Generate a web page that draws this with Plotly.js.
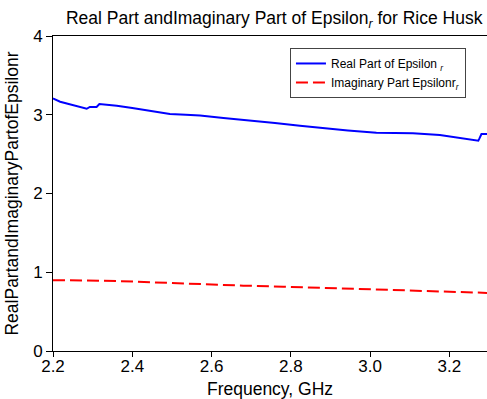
<!DOCTYPE html>
<html>
<head>
<meta charset="utf-8">
<script src="https://cdn.plot.ly/plotly-3.0.1.min.js"></script>
<style>html,body{margin:0;padding:0;background:#fff;}#chart{width:487px;height:399px;}</style>
</head>
<body>
<div id="chart"></div>
<script>
const realFreq = [2.2, 2.2025, 2.218, 2.24, 2.26, 2.276, 2.285, 2.293, 2.31, 2.317, 2.335, 2.361, 2.40, 2.445, 2.495, 2.535, 2.571, 2.63, 2.697, 2.76, 2.823, 2.88, 2.944, 3.016, 3.06, 3.108, 3.176, 3.234, 3.273, 3.276, 3.281, 3.295];
const realVals = [3.21, 3.20, 3.166, 3.135, 3.11, 3.09, 3.076, 3.10, 3.10, 3.136, 3.13, 3.115, 3.085, 3.05, 3.01, 3.00, 2.99, 2.96, 2.93, 2.895, 2.86, 2.83, 2.80, 2.77, 2.768, 2.765, 2.743, 2.70, 2.67, 2.70, 2.755, 2.755];
const imagFreq = [2.2, 2.23, 2.361, 2.45, 2.571, 2.68, 2.781, 2.89, 2.991, 3.08, 3.159, 3.23, 3.295];
const imagVals = [0.90, 0.90, 0.889, 0.87, 0.847, 0.83, 0.817, 0.80, 0.787, 0.775, 0.76, 0.75, 0.738];
const xTicks = [2.2, 2.4, 2.6, 2.8, 3.0, 3.2];
const yTicks = [0, 1, 2, 3, 4];

const fam = 'Liberation Sans, Arial, sans-serif';
const tickFont = {family: fam, size: 17, color: '#000'};
const titleFont = {family: fam, size: 17.5, color: '#000'};
const data = [
  {x: realFreq, y: realVals, type: 'scatter', mode: 'lines', name: 'Real Part of Epsilon <i><sub>r</sub></i>',
   line: {color: '#0000ff', width: 2}},
  {x: imagFreq, y: imagVals, type: 'scatter', mode: 'lines', name: 'Imaginary Part Epsilonr<i><sub>r</sub></i>',
   line: {color: '#ff0000', width: 2, dash: '12px,5px'}}
];
const layout = {
  width: 487, height: 399,
  margin: {l: 53, r: 0, t: 36, b: 48},
  paper_bgcolor: '#fff', plot_bgcolor: '#fff',
  font: tickFont,
  title: {text: 'Real Part andImaginary Part of Epsilon<i><sub>r</sub></i> for Rice Husk', font: titleFont, x: 0.563, xanchor: 'center', y: 0.955, yanchor: 'middle'},
  showlegend: true,
  legend: {x: 0.546, y: 0.962, xanchor: 'left', yanchor: 'top', bgcolor: '#fff', bordercolor: '#444', borderwidth: 1,
    font: {family: fam, size: 12, color: '#000'}, itemwidth: 30, tracegroupgap: 4},
  xaxis: {range: [2.2, 3.295], tickvals: xTicks, ticktext: xTicks.map(v => v.toFixed(1)),
    showgrid: false, zeroline: false, showline: true, linecolor: '#000', linewidth: 1, mirror: true,
    ticks: 'outside', ticklen: 5, tickcolor: '#000', tickfont: tickFont, ticklabelstandoff: -5,
    title: {text: 'Frequency, GHz', font: titleFont, standoff: 8}},
  yaxis: {range: [0, 4], tickvals: yTicks, showgrid: false, zeroline: false, showline: true, linecolor: '#000', linewidth: 1,
    ticks: 'outside', ticklen: 6, tickcolor: '#000', tickfont: tickFont,
    title: {text: 'RealPartandImaginaryPartofEpsilonr', font: titleFont, standoff: 10}}
};
Plotly.newPlot('chart', data, layout, {displayModeBar: false, staticPlot: true});
</script>
</body>
</html>
